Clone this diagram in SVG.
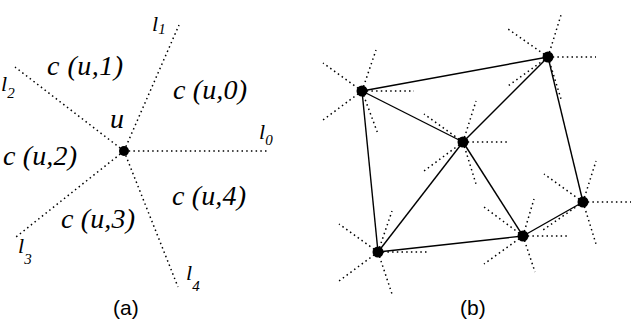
<svg xmlns="http://www.w3.org/2000/svg" width="635" height="331" viewBox="0 0 635 331">
<style>
.dot{stroke:#000;stroke-width:1.5;stroke-dasharray:1.5 3.2;fill:none}
.edge{stroke:#000;stroke-width:1.4;fill:none}
.node{fill:#000}
.it{font-family:"Liberation Serif","Times New Roman",serif;font-style:italic;fill:#000}
.lab{font-size:28px}
.ll{font-size:22px}
.sub{font-size:15px}
.cap{font-family:"Liberation Sans",Arial,sans-serif;font-size:21px;fill:#000}
</style>
<rect width="635" height="331" fill="#fff"/>
<g id="panel-a">
  <g id="rays-a">
    <line class="dot" x1="124" y1="151" x2="268" y2="151"/>
    <line class="dot" x1="124" y1="151" x2="179" y2="25"/>
    <line class="dot" x1="124" y1="151" x2="15" y2="67"/>
    <line class="dot" x1="124" y1="151" x2="16" y2="237"/>
    <line class="dot" x1="124" y1="151" x2="178" y2="287"/>
  </g>
  <g id="node-u">
    <circle class="node" cx="124" cy="151" r="5"/>
    <text class="it lab" x="110" y="128">u</text>
  </g>
  <g id="labels-a">
    <text class="it lab" x="47" y="75" textLength="76" lengthAdjust="spacing">c (u,1)</text>
    <text class="it lab" x="173" y="99" textLength="74" lengthAdjust="spacing">c (u,0)</text>
    <text class="it lab" x="3" y="165" textLength="74" lengthAdjust="spacing">c (u,2)</text>
    <text class="it lab" x="61" y="228" textLength="74" lengthAdjust="spacing">c (u,3)</text>
    <text class="it lab" x="172" y="205" textLength="74" lengthAdjust="spacing">c (u,4)</text>
    <text class="it ll" x="152" y="31">l<tspan class="sub" dy="3">1</tspan></text>
    <text class="it ll" x="1" y="91">l<tspan class="sub" dy="7">2</tspan></text>
    <text class="it ll" x="259" y="139">l<tspan class="sub" dy="6">0</tspan></text>
    <text class="it ll" x="18" y="253">l<tspan class="sub" dy="11">3</tspan></text>
    <text class="it ll" x="186" y="280">l<tspan class="sub" dy="11">4</tspan></text>
  </g>
  <text class="cap" x="113" y="315">(a)</text>
</g>
<g id="connectors">
  <line class="edge" x1="362" y1="91" x2="548" y2="57"/>
  <line class="edge" x1="362" y1="91" x2="463" y2="142"/>
  <line class="edge" x1="362" y1="91" x2="378" y2="252"/>
  <line class="edge" x1="548" y1="57" x2="463" y2="142"/>
  <line class="edge" x1="548" y1="57" x2="583" y2="202"/>
  <line class="edge" x1="463" y1="142" x2="378" y2="252"/>
  <line class="edge" x1="463" y1="142" x2="523" y2="236"/>
  <line class="edge" x1="583" y1="202" x2="523" y2="236"/>
  <line class="edge" x1="523" y1="236" x2="378" y2="252"/>
</g>
<g id="node-A">
  <path class="dot" d="M362 91h52M362 91l14 -41M362 91l-39 -28M362 91l-39 29M362 91l16 43"/>
  <circle class="node" cx="362" cy="91" r="5.5"/>
</g>
<g id="node-B">
  <path class="dot" d="M548 57h48M548 57l13 -42M548 57l-40 -28M548 57l-40 29M548 57l13 42"/>
  <circle class="node" cx="548" cy="57" r="5.5"/>
</g>
<g id="node-C">
  <path class="dot" d="M463 142h44M463 142l13 -41M463 142l-39 -28M463 142l-39 29M463 142l13 42"/>
  <circle class="node" cx="463" cy="142" r="5.5"/>
</g>
<g id="node-D">
  <path class="dot" d="M583 202h48M583 202l13 -41M583 202l-39 -28M583 202l-40 28M583 202l13 42"/>
  <circle class="node" cx="583" cy="202" r="5.5"/>
</g>
<g id="node-E">
  <path class="dot" d="M523 236h44M523 236l11 -37M523 236l-39 -29M523 236l-39 28M523 236l12 36"/>
  <circle class="node" cx="523" cy="236" r="5.5"/>
</g>
<g id="node-F">
  <path class="dot" d="M378 252h50M378 252l14 -41M378 252l-39 -28M378 252l-39 29M378 252l14 42"/>
  <circle class="node" cx="378" cy="252" r="5.5"/>
</g>
<text class="cap" x="460" y="315">(b)</text>
</svg>
